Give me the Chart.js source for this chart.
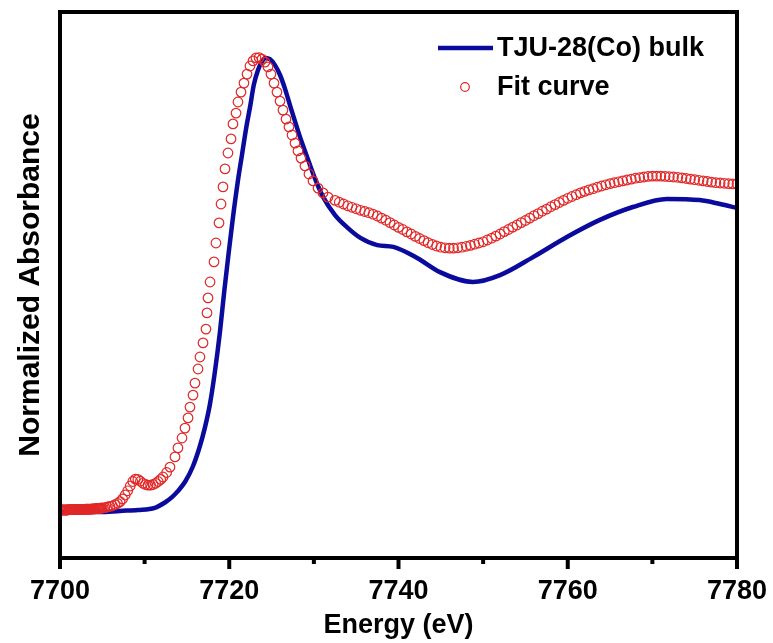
<!DOCTYPE html>
<html>
<head>
<meta charset="utf-8">
<script src="https://cdn.jsdelivr.net/npm/chart.js@4"></script>
<style>
  html, body { margin: 0; padding: 0; background: #fff; }
  #wrap { width: 773px; height: 643px; }
</style>
</head>
<body>
<div id="wrap"><canvas id="xanes"></canvas></div>
<script>
// Co K-edge XANES: measured bulk spectrum and the fitted curve
const fitEnergy = [
  7700.0, 7700.1, 7700.2, 7700.3, 7700.4, 7700.5, 7700.6, 7700.7, 7700.8, 7700.9,
  7701.0, 7701.1, 7701.2, 7701.3, 7701.4, 7701.5, 7701.6, 7701.7, 7701.8, 7701.9,
  7702.0, 7702.1, 7702.2, 7702.3, 7702.4, 7702.5, 7702.6, 7702.7, 7702.8, 7702.9,
  7703.0, 7703.1, 7703.2, 7703.3, 7703.4, 7703.5, 7703.6, 7703.7, 7703.8, 7703.9,
  7704.0, 7704.1, 7704.2, 7704.3, 7704.4, 7704.5, 7704.6, 7704.7, 7704.8, 7704.9,
  7705.0,
  7705.3, 7705.6, 7705.9, 7706.2, 7706.5, 7706.8, 7707.1, 7707.4, 7707.7, 7708.0,
  7708.3, 7708.6, 7708.9, 7709.2, 7709.5, 7709.8, 7710.1, 7710.4, 7710.7, 7711.0,
  7711.3, 7711.6, 7711.9,
  7712.17, 7712.6, 7713.0, 7713.59, 7713.94, 7714.42, 7714.77, 7715.13, 7715.36, 7715.72,
  7715.95, 7716.31, 7716.54, 7716.9, 7717.25, 7717.37, 7717.49, 7717.73, 7718.2, 7718.43,
  7718.79, 7719.03, 7719.26, 7719.5, 7719.85, 7720.21, 7720.44, 7720.8, 7721.03, 7721.39,
  7721.74, 7722.1, 7722.45, 7722.81, 7723.16, 7723.52, 7723.87, 7724.22, 7724.58, 7724.93,
  7725.29, 7725.64, 7726.0, 7726.35, 7726.71, 7727.06, 7727.42, 7727.77, 7728.12, 7728.48,
  7728.95, 7729.42, 7729.9, 7730.49, 7731.08, 7731.67,
  7732.5, 7733.0, 7733.5, 7734.0, 7734.5, 7735.0, 7735.5, 7736.0, 7736.5, 7737.0,
  7737.5, 7738.0, 7738.5, 7739.0, 7739.5, 7740.0, 7740.5, 7741.0, 7741.5, 7742.0,
  7742.5, 7743.0, 7743.5, 7744.0, 7744.5, 7745.0, 7745.5, 7746.0, 7746.5, 7747.0,
  7747.5, 7748.0, 7748.5, 7749.0, 7749.5, 7750.0, 7750.5, 7751.0, 7751.5, 7752.0,
  7752.5, 7753.0, 7753.5, 7754.0, 7754.5, 7755.0, 7755.5, 7756.0, 7756.5, 7757.0,
  7757.5, 7758.0, 7758.5, 7759.0, 7759.5, 7760.0, 7760.5, 7761.0, 7761.5, 7762.0,
  7762.5, 7763.0, 7763.5, 7764.0, 7764.5, 7765.0, 7765.5, 7766.0, 7766.5, 7767.0,
  7767.5, 7768.0, 7768.5, 7769.0, 7769.5, 7770.0, 7770.5, 7771.0, 7771.5, 7772.0,
  7772.5, 7773.0, 7773.5, 7774.0, 7774.5, 7775.0, 7775.5, 7776.0, 7776.5, 7777.0,
  7777.5, 7778.0, 7778.5, 7779.0, 7779.5, 7780.0
];
const fitAbs = [
  0.000, 0.000, 0.000, 0.000, 0.000, 0.000, 0.000, 0.000, 0.000, 0.000,
  0.001, 0.001, 0.001, 0.001, 0.001, 0.001, 0.001, 0.001, 0.001, 0.001,
  0.002, 0.002, 0.002, 0.002, 0.002, 0.002, 0.002, 0.002, 0.002, 0.002,
  0.003, 0.003, 0.003, 0.003, 0.003, 0.003, 0.003, 0.003, 0.004, 0.004,
  0.004, 0.004, 0.004, 0.005, 0.005, 0.005, 0.005, 0.006, 0.006, 0.006,
  0.007,
  0.008, 0.010, 0.012, 0.014, 0.018, 0.022, 0.028, 0.037, 0.050, 0.064,
  0.080, 0.095, 0.103, 0.102, 0.096, 0.089, 0.085, 0.083, 0.083, 0.085,
  0.089, 0.095, 0.102,
  0.110, 0.125, 0.143, 0.177, 0.207, 0.240, 0.273, 0.307, 0.343, 0.383,
  0.423, 0.470, 0.510, 0.557, 0.603, 0.657, 0.707, 0.760, 0.827, 0.890,
  0.957, 1.020, 1.077, 1.137, 1.190, 1.237, 1.287, 1.323, 1.360, 1.393,
  1.423, 1.453, 1.480, 1.497, 1.507, 1.508, 1.503, 1.493, 1.477, 1.453,
  1.423, 1.393, 1.363, 1.333, 1.303, 1.277, 1.250, 1.223, 1.197, 1.173,
  1.147, 1.120, 1.097, 1.073, 1.057, 1.043,
  1.032, 1.026, 1.020, 1.014, 1.009, 1.004, 0.999, 0.995, 0.991, 0.986,
  0.980, 0.973, 0.966, 0.958, 0.950, 0.942, 0.935, 0.927, 0.920, 0.912,
  0.905, 0.898, 0.891, 0.885, 0.880, 0.876, 0.874, 0.873, 0.873, 0.874,
  0.876, 0.879, 0.882, 0.886, 0.890, 0.894, 0.900, 0.906, 0.913, 0.920,
  0.928, 0.935, 0.943, 0.950, 0.958, 0.965, 0.973, 0.981, 0.988, 0.996,
  1.003, 1.011, 1.018, 1.025, 1.032, 1.039, 1.045, 1.051, 1.057, 1.062,
  1.067, 1.071, 1.076, 1.080, 1.084, 1.088, 1.091, 1.094, 1.097, 1.100,
  1.103, 1.106, 1.108, 1.110, 1.112, 1.113, 1.113, 1.113, 1.112, 1.111,
  1.110, 1.109, 1.107, 1.105, 1.103, 1.101, 1.099, 1.097, 1.095, 1.093,
  1.091, 1.090, 1.089, 1.088, 1.087, 1.087
];

const bulkEnergy = [
  7700.0, 7704.7, 7707.1, 7709.2, 7711.2, 7712.4, 7713.2, 7713.9, 7714.8, 7715.7,
  7716.5, 7717.1, 7717.7, 7718.3, 7718.9, 7719.4, 7719.9, 7720.4, 7721.0, 7721.5,
  7722.0, 7722.5, 7722.9, 7723.4, 7723.9, 7724.3, 7724.8, 7725.4, 7726.0, 7726.6,
  7727.2, 7727.8, 7728.4, 7729.2, 7730.1, 7731.1, 7732.5, 7733.9, 7735.5, 7737.5,
  7739.4, 7742.2, 7744.9, 7748.8, 7752.0, 7755.9, 7759.9, 7763.8, 7767.7, 7771.7,
  7775.6, 7778.0, 7780.0
];
const bulkAbs = [
  -0.007, -0.007, -0.003, 0.000, 0.007, 0.025, 0.042, 0.062, 0.095, 0.145,
  0.210, 0.272, 0.350, 0.460, 0.593, 0.727, 0.850, 0.967, 1.093, 1.183,
  1.273, 1.350, 1.417, 1.467, 1.497, 1.507, 1.503, 1.483, 1.450, 1.403,
  1.347, 1.293, 1.240, 1.177, 1.107, 1.043, 0.983, 0.943, 0.907, 0.883,
  0.877, 0.840, 0.793, 0.760, 0.783, 0.843, 0.910, 0.967, 1.010, 1.037,
  1.033, 1.020, 1.007
];

const majorTicks = [7700, 7720, 7740, 7760, 7780];
const minorTicks = [7710, 7730, 7750, 7770];

const BULK_COLOR = '#0a0a9c';
const FIT_COLOR = 'rgb(225, 40, 40)';
const FONT = '"Liberation Sans", Arial, Helvetica, sans-serif';

const toPoints = (xs, ys) => xs.map((x, i) => ({ x: x, y: ys[i] }));

// box around the plot plus outward ticks on the energy axis
const framePlugin = {
  id: 'frame',
  afterDraw(chart) {
    const { ctx, chartArea: a, scales: { x } } = chart;
    ctx.save();
    ctx.strokeStyle = '#000';
    ctx.lineWidth = 4;
    ctx.strokeRect(a.left, a.top, a.right - a.left, a.bottom - a.top);
    ctx.lineCap = 'butt';
    const tick = (e, len) => {
      const px = x.getPixelForValue(e);
      ctx.beginPath();
      ctx.moveTo(px, a.bottom);
      ctx.lineTo(px, a.bottom + len);
      ctx.stroke();
    };
    majorTicks.forEach(e => tick(e, 11));
    minorTicks.forEach(e => tick(e, 6));
    ctx.restore();
  }
};

// legend in the upper right corner
const legendPlugin = {
  id: 'cornerLegend',
  afterDraw(chart) {
    const { ctx, chartArea: a } = chart;
    const [bulk, fit] = chart.data.datasets;
    const x0 = a.right - 299;
    const textX = a.right - 240;
    ctx.save();
    ctx.strokeStyle = bulk.borderColor;
    ctx.lineWidth = bulk.borderWidth;
    ctx.beginPath();
    ctx.moveTo(x0, a.top + 36);
    ctx.lineTo(x0 + 55, a.top + 36);
    ctx.stroke();

    ctx.strokeStyle = fit.borderColor;
    ctx.lineWidth = fit.borderWidth;
    ctx.beginPath();
    ctx.arc(x0 + 27, a.top + 75, fit.pointRadius - 0.5, 0, Math.PI * 2);
    ctx.stroke();

    ctx.fillStyle = '#000';
    ctx.font = 'bold 27px ' + FONT;
    ctx.textBaseline = 'middle';
    ctx.fillText(bulk.label, textX, a.top + 37);
    ctx.fillText(fit.label, textX, a.top + 76);
    ctx.restore();
  }
};

new Chart(document.getElementById('xanes'), {
  type: 'line',
  data: {
    datasets: [
      {
        label: 'TJU-28(Co) bulk',
        data: toPoints(bulkEnergy, bulkAbs),
        borderColor: BULK_COLOR,
        borderWidth: 4.5,
        pointRadius: 0,
        cubicInterpolationMode: 'monotone',
        fill: false,
        order: 2
      },
      {
        label: 'Fit curve',
        data: toPoints(fitEnergy, fitAbs),
        showLine: false,
        borderColor: FIT_COLOR,
        backgroundColor: 'rgba(0,0,0,0)',
        borderWidth: 1.2,
        pointRadius: 4.8,
        pointStyle: 'circle',
        order: 1
      }
    ]
  },
  options: {
    responsive: true,
    maintainAspectRatio: false,
    animation: false,
    devicePixelRatio: 1,
    layout: { padding: { top: 12, right: 36, left: 0, bottom: 0 } },
    plugins: {
      legend: { display: false },
      tooltip: { enabled: false }
    },
    scales: {
      x: {
        type: 'linear',
        min: 7700,
        max: 7780,
        grid: { display: false, drawTicks: false },
        border: { display: false },
        ticks: {
          stepSize: 20,
          padding: 17,
          color: '#000',
          maxRotation: 0,
          callback: v => String(v),
          font: { family: FONT, size: 27, weight: 'bold' }
        },
        title: {
          display: true,
          text: 'Energy (eV)',
          color: '#000',
          padding: { top: 0, bottom: 1 },
          font: { family: FONT, size: 27, weight: 'bold' }
        },
        afterFit(scale) {
          scale.height = 85;
          scale.paddingLeft = 0;
          scale.paddingRight = 0;
        }
      },
      y: {
        min: -0.16,
        max: 1.66,
        grid: { display: false, drawTicks: false },
        border: { display: false },
        ticks: { display: false },
        title: {
          display: true,
          text: 'Normalized Absorbance',
          color: '#000',
          padding: { top: 13, bottom: 0 },
          font: { family: FONT, size: 30, weight: 'bold' }
        },
        afterFit(scale) { scale.width = 60; }
      }
    }
  },
  plugins: [framePlugin, legendPlugin]
});
</script>
</body>
</html>
